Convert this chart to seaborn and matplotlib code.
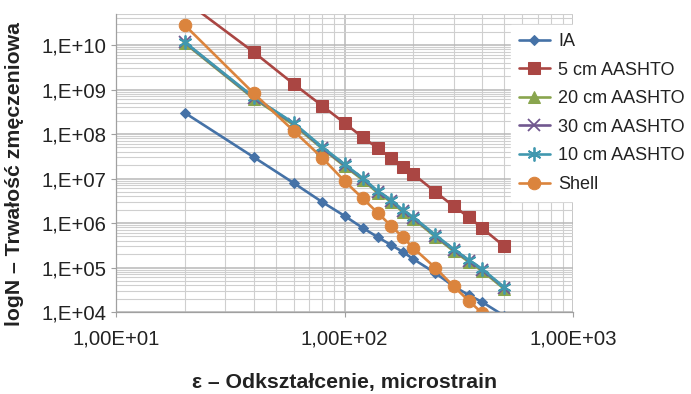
import numpy as np
import pandas as pd
import matplotlib
matplotlib.use("Agg")
import matplotlib.pyplot as plt
import matplotlib.ticker as mticker
import seaborn as sns

# ---- data ----
strain = [20, 40, 60, 80, 100, 120, 140, 160, 180, 200, 250, 300, 350, 400, 500]

ia = [3.0e8, 3.04e7, 7.9e6, 2.95e6, 1.45e6, 7.8e5, 4.8e5, 3.2e5, 2.24e5, 1.55e5,
      7.5e4, 3.8e4, 2.4e4, 1.68e4, 8.2e3]
aashto_5 = [1.0e11, 7.0e9, 1.33e9, 4.3e8, 1.77e8, 8.5e7, 4.8e7, 2.9e7, 1.8e7, 1.26e7,
            5.0e6, 2.4e6, 1.36e6, 7.7e5, 3.0e5]
aashto_20 = [1.1e10, 6.3e8, 1.6e8, 4.7e7, 1.9e7, 9.4e6, 4.7e6, 3.0e6, 1.78e6, 1.24e6,
             4.9e5, 2.35e5, 1.34e5, 8.4e4, 3.3e4]
aashto_30 = [1.15e10, 6.6e8, 1.72e8, 4.9e7, 2.0e7, 1.0e7, 5.0e6, 3.2e6, 1.9e6, 1.32e6,
             5.2e5, 2.5e5, 1.42e5, 9.0e4, 3.5e4]
aashto_10 = [1.17e10, 6.8e8, 1.77e8, 5.1e7, 2.1e7, 1.03e7, 5.2e6, 3.3e6, 1.96e6, 1.36e6,
             5.4e5, 2.6e5, 1.48e5, 9.3e4, 3.6e4]
shell_strain = [20, 40, 60, 80, 100, 120, 140, 160, 180, 200, 250, 300, 350, 400]
shell = [2.8e10, 8.3e8, 1.17e8, 2.9e7, 8.8e6, 3.6e6, 1.68e6, 8.6e5, 4.8e5, 2.75e5,
         9.8e4, 3.8e4, 1.78e4, 9.5e3]

labels = ["IA", "5 cm AASHTO", "20 cm AASHTO", "30 cm AASHTO", "10 cm AASHTO", "Shell"]
x_ticks = [10, 100, 1000]
y_ticks = [1e4, 1e5, 1e6, 1e7, 1e8, 1e9, 1e10]

# ---- style ----
sns.set_theme(style="white")
plt.rcParams["font.family"] = ["Liberation Sans", "DejaVu Sans"]

fig = plt.figure(figsize=(6.91, 3.94), dpi=100)
ax = fig.add_axes([116 / 691, 1 - 312 / 394, (573 - 116) / 691, (312 - 14) / 394])
ax.set_xscale("log")
ax.set_yscale("log")

series = [
    (strain, ia, labels[0], "#4572A7", "D", 5.5, {}),
    (strain, aashto_5, labels[1], "#AA4643", "s", 9, {}),
    (strain, aashto_20, labels[2], "#89A54E", "^", 8, {}),
    (strain, aashto_30, labels[3], "#71588F", "x", 8, {"markeredgewidth": 1.3}),
    (strain, aashto_10, labels[4], "#4198AF", (6, 2, 0), 10, {"markeredgewidth": 1.3}),
    (shell_strain, shell, labels[5], "#DB843D", "o", 9, {}),
]

for xs, ys, lab, col, mk, ms, extra in series:
    df = pd.DataFrame({"x": xs, "y": ys})
    kw = dict(markeredgecolor=col, markerfacecolor=col)
    kw.update(extra)
    sns.lineplot(data=df, x="x", y="y", ax=ax, color=col, marker=mk, markersize=ms,
                 linewidth=1.9, label=lab, errorbar=None, **kw)

ax.set_xlim(10, 1000)
ax.set_ylim(1e4, 5e10)

# grid
ax.xaxis.set_major_locator(mticker.FixedLocator(x_ticks))
ax.yaxis.set_major_locator(mticker.FixedLocator(y_ticks))
ax.xaxis.set_minor_locator(mticker.LogLocator(base=10, subs=np.arange(2, 10), numticks=20))
ax.yaxis.set_minor_locator(mticker.LogLocator(base=10, subs=np.arange(2, 10), numticks=20))
ax.xaxis.set_minor_formatter(mticker.NullFormatter())
ax.yaxis.set_minor_formatter(mticker.NullFormatter())
ax.xaxis.set_major_formatter(mticker.FuncFormatter(
    lambda v, p: "1,00E+%02d" % int(round(np.log10(v)))))
ax.yaxis.set_major_formatter(mticker.FuncFormatter(
    lambda v, p: "1,E+%02d" % int(round(np.log10(v)))))

ax.grid(True, which="major", color="#b8b8b8", linewidth=1.1)
ax.grid(True, which="minor", color="#cfcfcf", linewidth=0.8)
ax.set_axisbelow(True)

for s in ["top", "right"]:
    ax.spines[s].set_visible(False)
for s in ["left", "bottom"]:
    ax.spines[s].set_color("#a0a0a0")
    ax.spines[s].set_linewidth(0.9)

ax.tick_params(axis="both", which="major", direction="out", length=3.6, width=0.8,
               color="#a0a0a0", labelsize=14.7, labelcolor="#222222",
               bottom=True, left=True)
ax.tick_params(axis="x", which="major", pad=9)
ax.tick_params(axis="y", which="major", pad=3)
ax.tick_params(axis="both", which="minor", length=0)

ax.set_xlabel("ε – Odkształcenie, microstrain", fontsize=15.3, fontweight="bold",
              color="#222222")
ax.set_ylabel("logN – Trwałość zmęczeniowa", fontsize=15.3, fontweight="bold",
              color="#222222")
ax.xaxis.set_label_coords(0.5, -0.205)
ax.yaxis.set_label_coords(-0.201, 0.463)

leg = ax.legend(loc="upper left", bbox_to_anchor=(511 / 691, 1 - 25 / 394),
                bbox_transform=fig.transFigure, fontsize=13, frameon=True,
                fancybox=False, framealpha=1, facecolor="white", edgecolor="white",
                borderpad=0.45, borderaxespad=0, labelspacing=0.64,
                handlelength=1.7, handletextpad=0.45)
for t in leg.get_texts():
    t.set_color("#222222")

fig.savefig("out.png", dpi=100)
